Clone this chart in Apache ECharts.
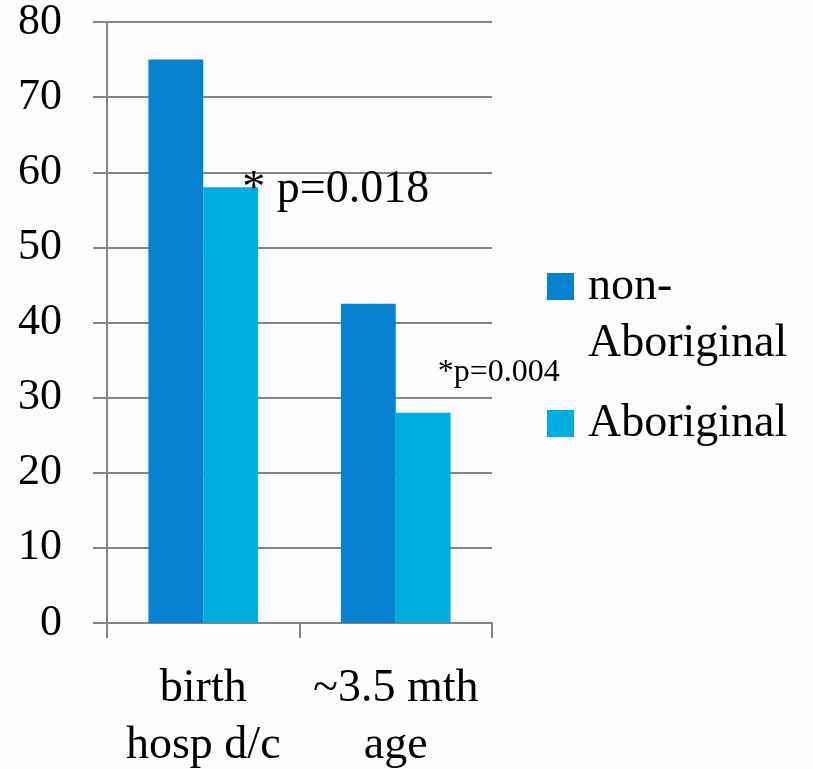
<!DOCTYPE html>
<html>
<head>
<meta charset="utf-8">
<script src="https://cdn.jsdelivr.net/npm/echarts@6/dist/echarts.min.js"></script>
<style>
  html, body { margin: 0; padding: 0; background: #fdfdfd; }
  #chart { width: 813px; height: 769px; }
</style>
</head>
<body>
<div id="chart"></div>
<script>
// Categories and percentages for each group
const categories = ['birth\nhosp d/c', '~3.5 mth\nage'];
const nonAboriginal = [75, 42.5];
const aboriginal = [58, 28];
const yTicks = [0, 10, 20, 30, 40, 50, 60, 70, 80];
// Significance notes attached to the Aboriginal bars
const pNotes = ['* p=0.018', '*p=0.004'];

const FONT = "'Liberation Serif', 'DejaVu Serif', serif";
const DARK = '#0782d0';
const LIGHT = '#00addf';
const GRID_GRAY = '#858585';

const noteStyles = [
  { fontSize: 46, position: [39, 3] },
  { fontSize: 32, position: [42, -40] }
];

const aboriginalData = aboriginal.map((v, i) => ({
  value: v,
  label: {
    show: true,
    formatter: pNotes[i],
    position: noteStyles[i].position,
    align: 'left',
    verticalAlign: 'middle',
    color: '#000',
    fontFamily: FONT,
    fontSize: noteStyles[i].fontSize
  }
}));

const legendText = { fontFamily: FONT, fontSize: 46, color: '#000', lineHeight: 57, padding: [0, 0, 0, 9] };

const chart = echarts.init(document.getElementById('chart'));
chart.setOption({
  backgroundColor: '#fdfdfd',
  animation: false,
  grid: { left: 107, right: 321, top: 22, bottom: 146, containLabel: false, outerBoundsMode: 'none' },
  legend: [
    {
      // wrapped name; the leading empty line keeps "non-" level with the swatch
      data: [{ name: 'non-Aboriginal' }],
      left: 547, top: 201, padding: 0,
      icon: 'rect', itemWidth: 27, itemHeight: 27,
      selectedMode: false,
      formatter: () => '\nnon-\nAboriginal',
      textStyle: legendText
    },
    {
      data: [{ name: 'Aboriginal' }],
      left: 547, top: 395, padding: 0,
      icon: 'rect', itemWidth: 27, itemHeight: 27,
      selectedMode: false,
      textStyle: legendText
    }
  ],
  xAxis: {
    type: 'category',
    data: categories,
    axisLine: { show: true, lineStyle: { color: GRID_GRAY, width: 2 } },
    axisTick: { show: true, length: 15, lineStyle: { color: GRID_GRAY, width: 2 } },
    axisLabel: { interval: 0, fontFamily: FONT, fontSize: 46, color: '#000', lineHeight: 57, margin: 37 }
  },
  yAxis: {
    type: 'value',
    min: yTicks[0], max: yTicks[yTicks.length - 1], interval: 10,
    axisLine: { show: true, lineStyle: { color: GRID_GRAY, width: 2 } },
    axisTick: { show: true, length: 14, lineStyle: { color: GRID_GRAY, width: 2 } },
    splitLine: { show: true, lineStyle: { color: GRID_GRAY, width: 2 } },
    axisLabel: { fontFamily: FONT, fontSize: 44, color: '#000', margin: 45 }
  },
  series: [
    {
      name: 'non-Aboriginal', type: 'bar', data: nonAboriginal,
      itemStyle: { color: DARK }, barGap: '0%', barCategoryGap: '43%'
    },
    {
      name: 'Aboriginal', type: 'bar', data: aboriginalData,
      itemStyle: { color: LIGHT }, barGap: '0%', barCategoryGap: '43%'
    }
  ]
});
</script>
</body>
</html>
